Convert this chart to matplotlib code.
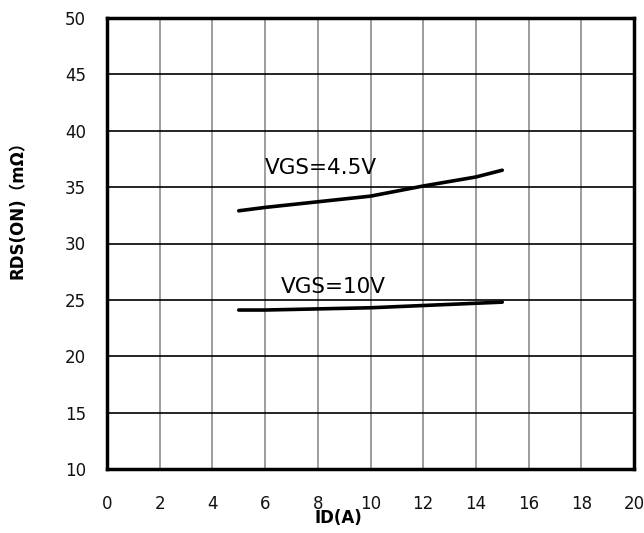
import numpy as np
import matplotlib
matplotlib.use('Agg')
import matplotlib.pyplot as plt

# drain current (A)
id_a = [5, 6, 8, 10, 12, 14, 15]
# on-resistance (mOhm)
rds_45 = [32.9, 33.2, 33.7, 34.2, 35.1, 35.9, 36.5]
rds_10 = [24.1, 24.1, 24.2, 24.3, 24.5, 24.7, 24.8]
xticks = [0, 2, 4, 6, 8, 10, 12, 14, 16, 18, 20]
yticks = [10, 15, 20, 25, 30, 35, 40, 45, 50]

W, H = 644, 533
fig = plt.figure(figsize=(W / 100, H / 100), dpi=100)
ax = fig.add_axes([107/W, 1 - 469/H, (634-107)/W, (469-18)/H])

for x in xticks[1:-1]:
    ax.axvline(x, color='#8c8c8c', lw=1.2, zorder=1)
for y in yticks[1:-1]:
    ax.axhline(y, color='black', lw=1.2, zorder=1)

ax.plot(id_a, rds_45, color='black', lw=2.6, solid_capstyle='round', zorder=3)
ax.plot(id_a, rds_10, color='black', lw=2.6, solid_capstyle='round', zorder=3)

ax.text(6.0, 36.7, 'VGS=4.5V', fontsize=15.5, va='center', ha='left')
ax.text(6.6, 26.1, 'VGS=10V', fontsize=15.5, va='center', ha='left')

ax.set_xlim(0, 20)
ax.set_ylim(10, 50)
ax.set_xticks(xticks)
ax.set_yticks(yticks)
ax.tick_params(length=0, labelsize=12, colors='#111111')
ax.tick_params(axis='x', pad=19)
ax.tick_params(axis='y', pad=15)
for s in ax.spines.values():
    s.set_linewidth(2.5)

fig.text(338/W, 1 - 518/H, 'ID(A)', fontsize=12, fontweight='bold',
         ha='center', va='center')
fig.text(18/W, 1 - 206/H, 'RDS(ON)（mΩ）', fontsize=12, fontweight='bold',
         rotation=90, ha='center', va='center',
         family=['DejaVu Sans', 'Noto Sans CJK SC'])

fig.savefig('out.png', dpi=100)
